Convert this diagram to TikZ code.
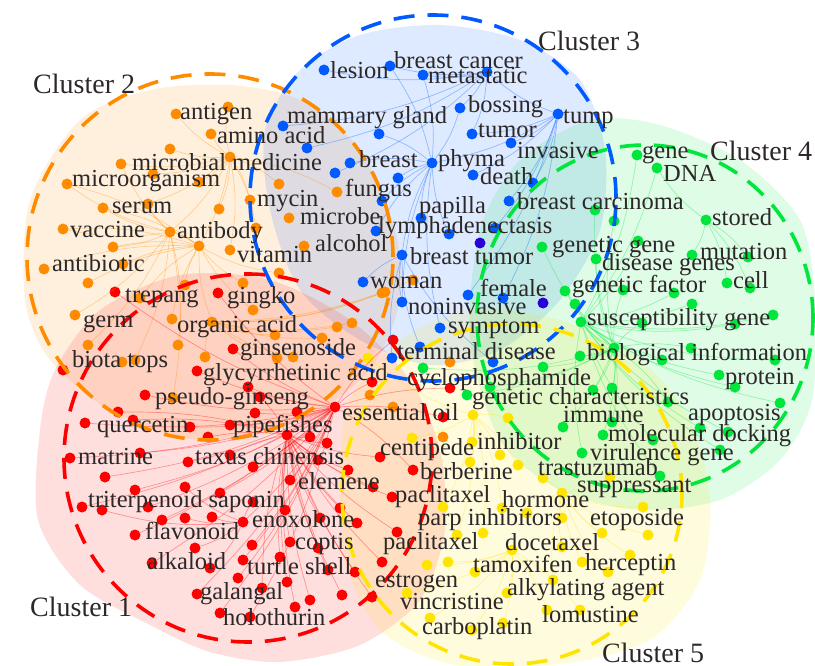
\documentclass[tikz,border=0pt]{standalone}
\usepackage{fontspec}
\setmainfont{Liberation Serif}
\definecolor{corange}{RGB}{255,140,0}
\definecolor{cblue}{RGB}{0,90,255}
\definecolor{cnavy}{RGB}{40,0,215}
\definecolor{cgreen}{RGB}{0,230,60}
\definecolor{cred}{RGB}{255,0,0}
\definecolor{cyellow}{RGB}{255,228,0}
\definecolor{ctext}{RGB}{45,40,40}

\begin{document}
\begin{tikzpicture}[x=1pt, y=-1pt,
  font=\fontsize{24.5}{26}\selectfont,
  blob/.style={fill=#1, fill opacity=0.13, draw=none},
  ring/.style={draw=#1, line width=3.6pt, dash pattern=on 21pt off 13pt},
  link/.style={draw=#1, line width=0.7pt, draw opacity=0.35},
  kwdot/.style={circle, fill=#1, minimum size=11pt, inner sep=0pt},
  kw/.style={anchor=base west, inner sep=0pt, text=ctext},
  clab/.style={anchor=base west, inner sep=0pt, text=ctext,
               font=\fontsize{28}{30}\selectfont},
]
\useasboundingbox (0,0) rectangle (815,666);
% --- shaded cluster areas ---------------------------------------------
\fill[blob=corange] plot[smooth cycle] coordinates {(25,300) (30,200)
  (80,120) (150,90) (230,85) (300,100) (360,150) (395,230) (400,300)
  (370,370) (300,420) (200,440) (110,410) (50,360)};
\fill[blob=cblue] plot[smooth cycle] coordinates {(265,130) (300,70)
  (360,35) (440,25) (520,40) (580,80) (605,150) (600,230) (560,300)
  (500,350) (430,365) (360,340) (300,290) (270,210)};
\fill[blob=cgreen] plot[smooth cycle] coordinates {(480,230) (520,160)
  (590,120) (660,125) (740,160) (800,220) (815,300) (812,400) (780,460)
  (720,500) (640,510) (560,490) (500,440) (470,340)};
\fill[blob=cred] plot[smooth cycle] coordinates {(40,430) (38,520)
  (80,585) (150,625) (210,652) (280,662) (360,645) (420,600) (445,530)
  (440,450) (410,380) (350,320) (270,280) (180,275) (100,310) (55,370)};
\fill[blob=cyellow] plot[smooth cycle] coordinates {(350,400) (400,340)
  (470,310) (560,320) (640,360) (690,420) (710,500) (700,580) (650,640)
  (560,664) (450,664) (380,630) (345,560) (340,470)};

% --- keyword dots -----------------------------------------------------
\foreach \p [count=\i] in {(176,114),(228,107),(211,134),(170,149),(230,157),
  (121,164),(153,174),(67,184),(199,182),(279,184),(250,200),(103,208),
  (148,204),(219,209),(289,218),(63,229),(170,232),(256,228),(113,247),
  (199,246),(230,250),(304,246),(44,269),(123,264),(279,273),(337,192),
  (243,283),(185,285),(88,283),(140,298),(75,315),(172,319),(88,345),
  (178,345),(135,360),(122,362),(205,357),(212,322),(253,310),(275,335),
  (277,358),(293,357),(173,398),(337,327),(352,323),(322,338),(382,293),
  (413,280),(370,395),(393,407),(443,437),(450,362),(385,292)}
  \node[kwdot=corange] (o\i) at \p {};
\foreach \p [count=\i] in {(324,70),(390,66),(423,75),(487,72),(460,108),
  (558,114),(283,126),(379,134),(472,134),(511,143),(307,148),(350,163),
  (432,163),(335,173),(398,178),(473,175),(533,183),(382,201),(509,201),
  (421,218),(376,231),(449,234),(495,228),(402,255),(363,282),(468,295),
  (503,298),(402,302),(440,328),(420,347),(392,358),(493,362)}
  \node[kwdot=cblue] (b\i) at \p {};
\node[kwdot=cnavy] (n1) at (480,243) {};
\node[kwdot=cnavy] (n2) at (543,303) {};
\foreach \p [count=\i] in {(637,155),(657,168),(595,210),(706,220),(614,221),
  (542,247),(638,241),(692,255),(748,257),(596,259),(727,283),(750,288),
  (565,291),(623,290),(674,293),(692,304),(575,304),(581,322),(642,323),
  (735,324),(773,315),(580,356),(614,348),(691,348),(662,360),(775,360),
  (543,367),(719,375),(735,387),(593,390),(612,388),(668,402),(780,403),
  (563,427),(612,422),(603,435),(653,440),(700,428),(728,432),(582,453),
  (720,450),(660,476),(423,368),(467,395),(490,387)}
  \node[kwdot=cgreen] (g\i) at \p {};
\foreach \p [count=\i] in {(473,415),(508,418),(412,438),(472,442),(500,455),
  (518,465),(470,462),(543,478),(610,477),(562,493),(643,507),(502,508),
  (527,513),(443,507),(562,518),(483,533),(602,533),(648,535),(457,535),
  (512,550),(562,547),(630,555),(448,562),(427,565),(582,562),(608,572),
  (475,572),(553,580),(507,593),(407,593),(580,610),(547,610),(430,618),
  (472,630),(503,623),(368,358)}
  \node[kwdot=cyellow] (y\i) at \p {};
\foreach \p [count=\i] in {(115,292),(218,293),(233,349),(197,371),(63,370),
  (248,387),(145,395),(260,397),(255,413),(118,412),(133,420),(85,423),
  (190,427),(230,425),(208,437),(287,435),(297,412),(70,458),(140,453),
  (188,462),(230,455),(253,467),(310,437),(327,443),(318,460),(348,470),
  (380,457),(373,487),(290,480),(105,477),(135,490),(185,487),(220,493),
  (253,502),(82,507),(102,510),(148,507),(285,510),(340,508),(392,497),
  (162,520),(185,518),(212,517),(243,522),(320,518),(357,523),(397,532),
  (135,535),(252,545),(290,542),(318,548),(195,548),(152,563),(210,568),
  (243,560),(280,557),(328,570),(355,572),(382,562),(238,578),(287,582),
  (197,594),(262,588),(310,600),(342,595),(372,597),(220,613),(250,617),
  (295,607),(335,407),(372,382),(393,340),(450,388),(443,417),(413,470)}
  \node[kwdot=cred] (r\i) at \p {};

% --- co-occurrence links (curved, faint) ------------------------------
\foreach \j in {1,2,3,4,6,7,9,10,11,13,14,17,18,20,21,26}
  \draw[link=corange] (o5) to[bend left=10] (o\j);
\foreach \j in {8,12,16,17,19,23,24,25,27,28,29,30,32,38,39}
  \draw[link=corange] (o20) to[bend right=10] (o\j);
\foreach \j in {6,8,12,13,16,19,31,33,34,35,43}
  \draw[link=corange] (o17) to[bend left=10] (o\j);
\foreach \j in {37,40,41,42,44,45,46,47,48,53}
  \draw[link=corange] (o38) to[bend right=10] (o\j);
\foreach \j in {4,9,10,13,16,17,19,23,26,27}
  \draw[link=cblue] (b6) to[bend left=10] (b\j);
\foreach \j in {2,3,5,8,12,15,18,20,21,22,24,28,29}
  \draw[link=cblue] (b13) to[bend right=10] (b\j);
\foreach \j in {1,2,3,5,9,11,14,7}
  \draw[link=cblue] (b4) to[bend left=10] (b\j);
\foreach \j in {25,28,30,31,32}
  \draw[link=cblue] (b24) to[bend right=10] (b\j);
\foreach \j in {3,5,6,10,13,14,17,18,19,22,24,25,27,30,31,32,34,35,36,43,44,45}
  \draw[link=cgreen] (g23) to[bend left=10] (g\j);
\foreach \j in {1,2,7,15,16,20,21,26,28,29,33,37,38,39,40,41,42}
  \draw[link=cgreen] (g18) to[bend right=10] (g\j);
\foreach \j in {8,9,11,12,2}
  \draw[link=cgreen] (g4) to[bend left=10] (g\j);
\foreach \j in {2,3,4,5,6,7,12,14,16,19,36}
  \draw[link=cyellow] (y1) to[bend left=10] (y\j);
\foreach \j in {8,9,11,13,15,17,18,21,22,25,26,28}
  \draw[link=cyellow] (y10) to[bend right=10] (y\j);
\foreach \j in {23,24,27,29,30,31,32,33,34,35}
  \draw[link=cyellow] (y20) to[bend left=10] (y\j);
\foreach \j in {1,2,3,4,6,7,9,12,13,14,16,18,19,20,22,29,30,31,33,35,37,41,
  44,48,49,53,55,60,62,67,68,71,72,73,74,75}
  \draw[link=cred] (r70) to[bend left=8] (r\j);
\foreach \j in {8,10,11,15,21,23,24,25,26,27,28,38,39,40,45,46,47,50,51,56,
  57,58,59,61,63,64,65,66,69}
  \draw[link=cred] (r16) to[bend right=8] (r\j);
\foreach \j in {32,34,36,42,43,52,54}
  \draw[link=cred] (r44) to[bend left=10] (r\j);

% --- dashed cluster rings ---------------------------------------------
\draw[ring=corange] (210,257) circle[radius=183pt];
\draw[ring=cblue] (433,198) circle[radius=183pt];
\draw[ring=cgreen] (645,318) ellipse[x radius=168pt, y radius=173pt];
\draw[ring=cred] (248,458) circle[radius=184pt];
\draw[ring=cyellow] (512,494) circle[radius=170pt];

% --- cluster 2 --------------------------------------------------------
\node[kw] (antigen) at (180,120) {antigen};
\node[kw] (aminoAcid) at (217,144) {amino acid};
\node[kw] (microMed) at (132,171) {microbial medicine};
\node[kw] (microOrg) at (72,187) {microorganism};
\node[kw] (serum) at (112,214) {serum};
\node[kw] (vaccine) at (70,237) {vaccine};
\node[kw] (antibody) at (177,239) {antibody};
\node[kw] (mycin) at (257,207) {mycin};
\node[kw] (microbe) at (300,225) {microbe};
\node[kw] (fungus) at (345,197) {fungus};
\node[kw] (alcohol) at (315,252) {alcohol};
\node[kw] (vitamin) at (237,262) {vitamin};
\node[kw] (antibiotic) at (52,272) {antibiotic};
\node[kw] (germ) at (83,327) {germ};
\node[kw] (organicAcid) at (177,332) {organic acid};
\node[kw] (biotaTops) at (72,367) {biota tops};
% --- cluster 3 --------------------------------------------------------
\node[kw] (lesion) at (330,79) {lesion};
\node[kw] (breastCancer) at (394,69) {breast cancer};
\node[kw] (metastatic) at (428,84) {metastatic};
\node[kw] (bossing) at (468,113) {bossing};
\node[kw] (tump) at (563,124) {tump};
\node[kw] (mammary) at (287,124) {mammary gland};
\node[kw] (tumor) at (478,138) {tumor};
\node[kw] (invasive) at (517,159) {invasive};
\node[kw] (breast) at (359,168) {breast};
\node[kw] (phyma) at (438,167) {phyma};
\node[kw] (death) at (480,185) {death};
\node[kw] (breastCarc) at (517,210) {breast carcinoma};
\node[kw] (papilla) at (419,214) {papilla};
\node[kw] (lymph) at (378,234) {lymphadenectasis};
\node[kw] (breastTumor) at (410,265) {breast tumor};
\node[kw] (woman) at (370,289) {woman};
\node[kw] (female) at (480,297) {female};
\node[kw] (noninvasive) at (408,314) {noninvasive};
\node[kw] (symptom) at (448,334) {symptom};
\node[kw] (terminal) at (397,359) {terminal disease};
\node[kw] (cyclo) at (407,385) {cyclophosphamide};
% --- cluster 4 --------------------------------------------------------
\node[kw] (gene) at (642,159) {gene};
\node[kw] (dna) at (663,182) {DNA};
\node[kw] (stored) at (712,226) {stored};
\node[kw] (geneticGene) at (552,253) {genetic gene};
\node[kw] (mutation) at (700,259) {mutation};
\node[kw] (diseaseGenes) at (602,271) {disease genes};
\node[kw] (cell) at (733,289) {cell};
\node[kw] (geneticFactor) at (572,293) {genetic factor};
\node[kw] (suscept) at (587,325) {susceptibility gene};
\node[kw] (bioInfo) at (587,360) {biological information};
\node[kw] (protein) at (725,384) {protein};
\node[kw] (geneticChar) at (472,404) {genetic characteristics};
\node[kw] (apoptosis) at (688,420) {apoptosis};
\node[kw] (immune) at (563,422) {immune};
\node[kw] (molDock) at (608,441) {molecular docking};
\node[kw] (virulence) at (590,460) {virulence gene};
% --- cluster 5 --------------------------------------------------------
\node[kw] (inhibitor) at (477,449) {inhibitor};
\node[kw] (centipede) at (380,455) {centipede};
\node[kw] (berberine) at (420,479) {berberine};
\node[kw] (trastuzumab) at (538,475) {trastuzumab};
\node[kw] (suppressant) at (577,492) {suppressant};
\node[kw] (paclitaxelA) at (395,502) {paclitaxel};
\node[kw] (hormone) at (502,507) {hormone};
\node[kw] (parp) at (418,525) {parp inhibitors};
\node[kw] (etoposide) at (590,525) {etoposide};
\node[kw] (paclitaxelB) at (383,549) {paclitaxel};
\node[kw] (docetaxel) at (505,550) {docetaxel};
\node[kw] (tamoxifen) at (473,572) {tamoxifen};
\node[kw] (herceptin) at (585,570) {herceptin};
\node[kw] (estrogen) at (375,587) {estrogen};
\node[kw] (alkylating) at (507,595) {alkylating agent};
\node[kw] (vincristine) at (400,609) {vincristine};
\node[kw] (lomustine) at (542,622) {lomustine};
\node[kw] (carboplatin) at (422,634) {carboplatin};
% --- cluster 1 --------------------------------------------------------
\node[kw] (trepang) at (125,302) {trepang};
\node[kw] (gingko) at (227,304) {gingko};
\node[kw] (ginsenoside) at (240,355) {ginsenoside};
\node[kw] (glycy) at (203,380) {glycyrrhetinic acid};
\node[kw] (pseudo) at (155,404) {pseudo-ginseng};
\node[kw] (essential) at (342,420) {essential oil};
\node[kw] (quercetin) at (97,432) {quercetin};
\node[kw] (pipefishes) at (233,432) {pipefishes};
\node[kw] (matrine) at (78,464) {matrine};
\node[kw] (taxus) at (195,464) {taxus chinensis};
\node[kw] (elemene) at (298,489) {elemene};
\node[kw] (triterp) at (88,507) {triterpenoid saponin};
\node[kw] (enoxolone) at (252,527) {enoxolone};
\node[kw] (flavonoid) at (145,539) {flavonoid};
\node[kw] (coptis) at (295,549) {coptis};
\node[kw] (alkaloid) at (147,569) {alkaloid};
\node[kw] (turtle) at (247,574) {turtle shell};
\node[kw] (galangal) at (200,599) {galangal};
\node[kw] (holothurin) at (223,625) {holothurin};

\node[clab] (c1) at (30,616) {Cluster 1};
\node[clab] (c2) at (33,94) {Cluster 2};
\node[clab] (c3) at (538,51) {Cluster 3};
\node[clab] (c4) at (710,161) {Cluster 4};
\node[clab] (c5) at (602,662) {Cluster 5};
\end{tikzpicture}
\end{document}
